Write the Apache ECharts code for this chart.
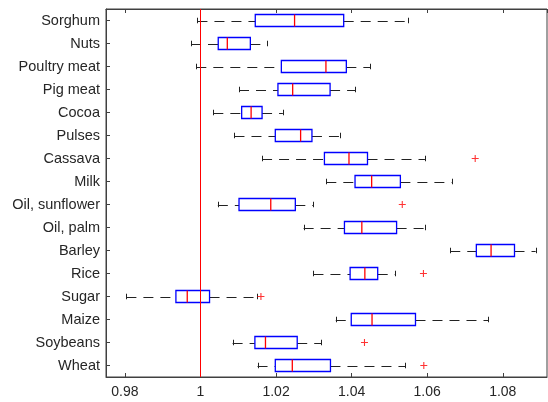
<!DOCTYPE html>
<html>
<head>
<meta charset="utf-8">
<script src="https://cdn.jsdelivr.net/npm/echarts@6/dist/echarts.min.js"></script>
<style>
html,body{margin:0;padding:0;background:#fff;}
#chart{width:548px;height:402px;}
</style>
</head>
<body>
<div id="chart"></div>
<script>
// Categories listed top to bottom
const categories = ['Sorghum','Nuts','Poultry meat','Pig meat','Cocoa','Pulses','Cassava','Milk','Oil, sunflower','Oil, palm','Barley','Rice','Sugar','Maize','Soybeans','Wheat'];
const lowerWhisker = [0.9992, 0.9975, 0.9989, 1.0102, 1.0034, 1.0090, 1.0163, 1.0333, 1.0046, 1.0273, 1.0661, 1.0299, 0.9804, 1.0358, 1.0085, 1.0151];
const q1Values     = [1.0145, 1.0047, 1.0214, 1.0205, 1.0109, 1.0198, 1.0328, 1.0409, 1.0102, 1.0381, 1.0730, 1.0396, 0.9935, 1.0399, 1.0144, 1.0198];
const medianValues = [1.0249, 1.0071, 1.0332, 1.0244, 1.0134, 1.0265, 1.0393, 1.0453, 1.0186, 1.0427, 1.0769, 1.0435, 0.9965, 1.0454, 1.0172, 1.0243];
const q3Values     = [1.0379, 1.0132, 1.0386, 1.0343, 1.0163, 1.0295, 1.0442, 1.0529, 1.0251, 1.0519, 1.0831, 1.0469, 1.0024, 1.0569, 1.0256, 1.0344];
const upperWhisker = [1.0549, 1.0177, 1.0449, 1.0410, 1.0218, 1.0370, 1.0594, 1.0665, 1.0299, 1.0593, 1.0887, 1.0516, 1.0149, 1.0761, 1.0320, 1.0542];
const outlierCategories = ['Cassava','Oil, sunflower','Rice','Sugar','Soybeans','Wheat'];
const outlierValues     = [1.0727, 1.0534, 1.0590, 1.0160, 1.0434, 1.0591];
const referenceValue = 1;
const xMin = 0.975, xMax = 1.0917;

const boxData = categories.map((c, i) => [i, lowerWhisker[i], q1Values[i], medianValues[i], q3Values[i], upperWhisker[i]]);
const outlierData = outlierCategories.map((c, i) => [outlierValues[i], categories.indexOf(c)]);

const font = "'Liberation Sans', Arial, Helvetica, sans-serif";
const axisColor = '#404040';
const textColor = '#262626';

function px(v){ return Math.round(v) + 0.5; }

function geom(api) {
  const idx = api.value(0);
  const vals = [api.value(1), api.value(2), api.value(3), api.value(4), api.value(5)];
  const band = api.size([0, 1])[1];
  const xs = vals.map(v => api.coord([v, idx])[0]);
  const yc = api.coord([vals[0], idx])[1];
  return {xs, yc, hb: band * 0.26, hc: band * 0.12};
}

function renderWhiskers(params, api) {
  const g = geom(api);
  const xs = g.xs, yc = g.yc, ycr = px(yc);
  return {
    type: 'group',
    children: [
      {type: 'line', shape: {x1: xs[0], y1: ycr, x2: xs[1], y2: ycr}, style: {stroke: '#222', lineWidth: 1, lineDash: [10, 7]}},
      {type: 'line', shape: {x1: xs[3], y1: ycr, x2: xs[4], y2: ycr}, style: {stroke: '#222', lineWidth: 1, lineDash: [10, 7]}},
      {type: 'line', shape: {x1: px(xs[0]), y1: yc - g.hc, x2: px(xs[0]), y2: yc + g.hc}, style: {stroke: '#222', lineWidth: 1}},
      {type: 'line', shape: {x1: px(xs[4]), y1: yc - g.hc, x2: px(xs[4]), y2: yc + g.hc}, style: {stroke: '#222', lineWidth: 1}}
    ]
  };
}

function renderBoxes(params, api) {
  const g = geom(api);
  const xs = g.xs, yc = g.yc;
  const top = yc - g.hb, h = 2 * g.hb;
  return {
    type: 'group',
    children: [
      {type: 'rect', shape: {x: xs[1], y: top, width: xs[3] - xs[1], height: h},
        style: {fill: 'none', stroke: 'rgb(0,0,255)', lineWidth: 1.3}},
      {type: 'line', shape: {x1: xs[2], y1: top, x2: xs[2], y2: top + h},
        style: {stroke: 'rgb(255,0,0)', lineWidth: 1.3}}
    ]
  };
}

const chart = echarts.init(document.getElementById('chart'), null, {renderer: 'canvas'});
chart.setOption({
  animation: false,
  backgroundColor: '#fff',
  grid: {left: 106, right: 1, top: 9, bottom: 25, show: true, borderColor: axisColor, borderWidth: 1, containLabel: false},
  xAxis: [
    {
      type: 'value', min: xMin, max: xMax, splitNumber: 5, position: 'bottom',
      splitLine: {show: false},
      axisLine: {show: true, lineStyle: {color: axisColor}},
      axisTick: {show: true, inside: true, length: 4, lineStyle: {color: axisColor}},
      axisLabel: {show: true, showMinLabel: false, showMaxLabel: false, color: textColor, fontFamily: font, fontSize: 14, margin: 8}
    },
    {
      type: 'value', min: xMin, max: xMax, splitNumber: 5, position: 'top',
      splitLine: {show: false},
      axisLine: {show: true, lineStyle: {color: axisColor}},
      axisTick: {show: true, inside: true, length: 4, lineStyle: {color: axisColor}},
      axisLabel: {show: false}
    }
  ],
  yAxis: {
    type: 'category', data: categories, inverse: true,
    axisLine: {show: true, lineStyle: {color: axisColor}},
    axisTick: {show: true, inside: true, length: 4, alignWithLabel: true, lineStyle: {color: axisColor}},
    axisLabel: {color: textColor, fontFamily: font, fontSize: 14.5, margin: 6},
    splitLine: {show: false}
  },
  series: [
    {
      type: 'custom',
      renderItem: renderWhiskers,
      data: boxData,
      encode: {x: [1, 2, 3, 4, 5], y: 0},
      silent: true,
      z: 3
    },
    {
      type: 'custom',
      renderItem: renderBoxes,
      data: boxData,
      encode: {x: [1, 2, 3, 4, 5], y: 0},
      silent: true,
      z: 4
    },
    {
      type: 'scatter',
      data: outlierData,
      symbol: 'path://M3.8,0H5.2V3.8H9V5.2H5.2V9H3.8V5.2H0V3.8H3.8Z',
      symbolSize: 7,
      itemStyle: {color: '#ff0000'},
      silent: true,
      z: 5,
      markLine: {
        silent: true,
        symbol: ['none', 'none'],
        label: {show: false},
        lineStyle: {color: '#ff0000', type: 'solid', width: 1},
        data: [{xAxis: referenceValue}]
      }
    }
  ]
});
</script>
</body>
</html>
